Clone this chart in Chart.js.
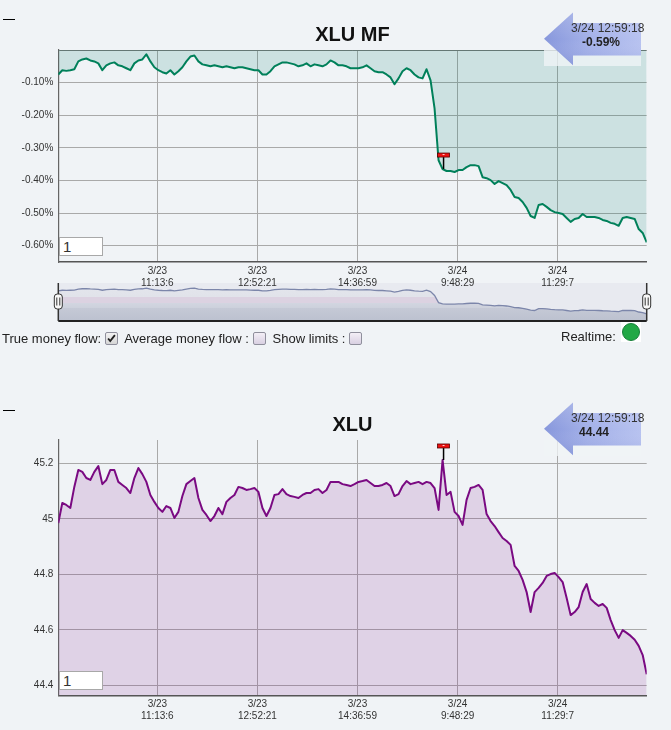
<!DOCTYPE html>
<html>
<head>
<meta charset="utf-8">
<script src="https://cdn.jsdelivr.net/npm/chart.js@4.4.1/dist/chart.umd.min.js"></script>
<style>
html,body{margin:0;padding:0;background:#f0f3f6;width:671px;height:730px;overflow:hidden;font-family:"Liberation Sans",Arial,sans-serif;}
canvas{position:absolute;left:0;}
.dash{position:absolute;left:3px;width:12px;height:0;border-top:1px solid #000;}
.num{position:absolute;left:59px;width:44px;height:19px;background:#fff;border:1px solid #a8a8a8;font-size:15px;line-height:17px;padding-left:3px;box-sizing:border-box;color:#333;}
#ctrl{position:absolute;left:2px;top:329px;font-size:13px;line-height:16px;color:#222;white-space:nowrap;}
#ctrl input{appearance:none;-webkit-appearance:none;width:13px;height:13px;margin:3px 3px 0 4px;border:1px solid #8f8f9c;border-radius:2px;background:linear-gradient(#f3eff6,#d9d0e2);vertical-align:-2px;box-sizing:border-box;}
#ctrl input:checked{background:url("data:image/svg+xml;utf8,<svg xmlns='http://www.w3.org/2000/svg' width='13' height='13'><path d='M2.5 6.5 L5 9.5 L10.5 2.5' stroke='%23222' stroke-width='2.2' fill='none'/></svg>") center/11px no-repeat, linear-gradient(#f2f2f2,#d6d6d6);}
#rt{position:absolute;left:561px;top:329px;font-size:13px;line-height:16px;color:#222;}
#led{position:absolute;left:621px;top:322px;width:20px;height:20px;background:#fff;}
#led div{position:absolute;left:1px;top:1px;width:16px;height:16px;border-radius:50%;background:#22a846;border:1px solid #17803a;}
</style>
</head>
<body>
<canvas id="nav" width="671" height="45" style="top:280px"></canvas>
<canvas id="mf" width="671" height="292" style="top:0px"></canvas>
<canvas id="px" width="671" height="350" style="top:380px"></canvas>
<div class="dash" style="top:19px"></div>
<div class="dash" style="top:410px"></div>
<div class="num" style="top:237px">1</div>
<div class="num" style="top:671px">1</div>
<div id="ctrl">True money flow:<input type="checkbox" checked> Average money flow :<input type="checkbox"> Show limits :<input type="checkbox"></div>
<div id="rt">Realtime:</div>
<div id="led"><div></div></div>
<script>
// ---------- data ----------
const mfValues = [
 -0.075,-0.062,-0.064,-0.062,-0.059,-0.035,-0.029,-0.026,-0.032,-0.035,
 -0.041,-0.062,-0.047,-0.041,-0.038,-0.047,-0.050,-0.056,-0.062,-0.041,
 -0.032,-0.029,-0.013,-0.035,-0.053,-0.062,-0.068,-0.072,-0.062,-0.075,
 -0.065,-0.053,-0.035,-0.020,-0.017,-0.035,-0.044,-0.047,-0.050,-0.047,
 -0.050,-0.053,-0.050,-0.053,-0.056,-0.053,-0.053,-0.056,-0.059,-0.062,
 -0.062,-0.075,-0.075,-0.065,-0.050,-0.044,-0.038,-0.038,-0.041,-0.044,
 -0.050,-0.047,-0.041,-0.050,-0.044,-0.047,-0.050,-0.044,-0.032,-0.038,
 -0.047,-0.047,-0.050,-0.056,-0.056,-0.056,-0.053,-0.047,-0.056,-0.065,
 -0.068,-0.068,-0.075,-0.084,-0.105,-0.087,-0.065,-0.056,-0.062,-0.075,
 -0.084,-0.087,-0.059,-0.093,-0.179,-0.338,-0.365,-0.371,-0.371,-0.374,
 -0.368,-0.368,-0.359,-0.353,-0.353,-0.356,-0.390,-0.393,-0.399,-0.411,
 -0.402,-0.408,-0.414,-0.429,-0.451,-0.454,-0.466,-0.484,-0.509,-0.515,
 -0.475,-0.472,-0.481,-0.491,-0.497,-0.500,-0.503,-0.515,-0.527,-0.518,
 -0.515,-0.503,-0.512,-0.512,-0.512,-0.515,-0.521,-0.524,-0.530,-0.533,
 -0.539,-0.515,-0.512,-0.515,-0.518,-0.549,-0.561,-0.590
];
const priceValues = [
 44.985,45.057,45.050,45.039,45.115,45.176,45.169,45.147,45.140,45.169,
 45.190,45.125,45.140,45.176,45.176,45.133,45.122,45.111,45.093,45.147,
 45.183,45.161,45.133,45.086,45.061,45.039,45.025,45.046,45.039,45.003,
 45.025,45.082,45.125,45.136,45.147,45.075,45.032,45.014,44.992,45.010,
 45.039,45.017,45.061,45.075,45.086,45.115,45.111,45.104,45.107,45.111,
 45.097,45.039,45.010,45.039,45.086,45.089,45.107,45.089,45.082,45.079,
 45.075,45.086,45.093,45.093,45.104,45.107,45.093,45.104,45.133,45.133,
 45.133,45.125,45.122,45.118,45.125,45.133,45.136,45.140,45.129,45.118,
 45.118,45.122,45.129,45.118,45.082,45.089,45.118,45.136,45.125,45.129,
 45.133,45.125,45.133,45.129,45.111,45.032,45.212,45.086,45.097,45.025,
 45.010,44.978,45.068,45.111,45.115,45.122,45.104,45.017,44.992,44.974,
 44.952,44.931,44.920,44.906,44.830,44.812,44.780,44.736,44.664,44.736,
 44.751,44.769,44.794,44.801,44.805,44.790,44.772,44.715,44.653,44.664,
 44.682,44.736,44.765,44.711,44.697,44.686,44.693,44.679,44.635,44.599,
 44.571,44.599,44.589,44.578,44.564,44.542,44.509,44.440
];
const xTickPos = [24.75, 49.75, 74.75, 99.75, 124.75];
const xTickLabels = [['3/23','11:13:6'],['3/23','12:52:21'],['3/23','14:36:59'],['3/24','9:48:29'],['3/24','11:29:7']];
const mfTicks = [-0.6,-0.5,-0.4,-0.3,-0.2,-0.1,0];
const priceTicks = [44.4,44.6,44.8,45.0,45.2];
const mfRange = [-0.65, 0];
const priceRange = [44.364, 45.284];
const navRange = [-0.75, 0.1];
const lastTime = '3/24 12:59:18';
const lastMf = '-0.59%';
const lastPrice = '44.44';
const flagIndex = 96;

// ---------- helpers ----------
const FONT = '"Liberation Sans", Arial, sans-serif';
const toXY = arr => arr.map((v, i) => ({x: i, y: v}));

const decor = {
  id: 'decor',
  afterDraw(chart, args, o) {
    const ctx = chart.ctx, a = chart.chartArea, t = a.top;
    ctx.save();
    // title
    ctx.font = 'bold 20px ' + FONT;
    ctx.fillStyle = '#111';
    ctx.textAlign = 'center';
    ctx.textBaseline = 'alphabetic';
    ctx.fillText(o.title, (a.left + a.right) / 2, t - 9);
    // flag marker
    const p = chart.getDatasetMeta(0).data[o.flagIndex];
    if (p) {
      ctx.strokeStyle = '#000'; ctx.lineWidth = 1.5;
      ctx.beginPath(); ctx.moveTo(p.x + 1, p.y - 12); ctx.lineTo(p.x + 1, p.y); ctx.stroke();
      ctx.fillStyle = '#ee1111';
      ctx.fillRect(p.x - 5, p.y - 16, 12, 4);
      ctx.strokeStyle = '#550000'; ctx.lineWidth = 0.8;
      ctx.strokeRect(p.x - 5, p.y - 16, 12, 4);
      ctx.fillStyle = '#ffd0d0';
      ctx.fillRect(p.x, p.y - 15, 2, 1);
    }
    // translucent box below the callout
    ctx.fillStyle = 'rgba(240,243,246,0.78)';
    ctx.fillRect(544, t, 97, 16);
    // arrow callout
    const tipX = 544, backX = 573, rightX = 641;
    ctx.beginPath();
    ctx.moveTo(tipX, t - 11.3);
    ctx.lineTo(backX, t - 37.5);
    ctx.lineTo(backX, t - 27);
    ctx.lineTo(rightX, t - 27);
    ctx.lineTo(rightX, t + 5.5);
    ctx.lineTo(backX, t + 5.5);
    ctx.lineTo(backX, t + 15.3);
    ctx.closePath();
    const g = ctx.createLinearGradient(tipX, 0, rightX, 0);
    g.addColorStop(0, '#8797dc');
    g.addColorStop(0.45, '#a3b0e8');
    g.addColorStop(1, '#b7c2f0');
    ctx.fillStyle = g;
    ctx.fill();
    const g2 = ctx.createLinearGradient(0, t - 37, 0, t + 15);
    g2.addColorStop(0, 'rgba(255,255,255,0.15)');
    g2.addColorStop(0.5, 'rgba(255,255,255,0.0)');
    g2.addColorStop(1, 'rgba(60,80,170,0.15)');
    ctx.fillStyle = g2;
    ctx.fill();
    // texts
    ctx.textAlign = 'left';
    ctx.font = '12px ' + FONT;
    ctx.fillStyle = '#333';
    ctx.fillText(o.dateText, 571, t - 18.3);
    ctx.font = 'bold 12px ' + FONT;
    ctx.fillStyle = '#222';
    ctx.textAlign = 'center';
    ctx.fillText(o.valueText, o.valueX, t - 4.3);
    ctx.restore();
  }
};

function xScale() {
  return {
    type: 'linear', min: 0, max: mfValues.length - 1,
    afterBuildTicks: s => { s.ticks = xTickPos.map(v => ({value: v})); },
    afterFit: s => { s.height = 30; },
    ticks: {
      autoSkip: false, maxRotation: 0, padding: 3,
      color: '#333', font: {family: FONT, size: 10},
      callback: (v, i) => xTickLabels[i]
    },
    grid: {color: '#a9a9a9', lineWidth: 1, drawTicks: false},
    border: {display: true, color: '#555', width: 1.6}
  };
}

function yScale(range, ticks, fmt, zeroColor) {
  return {
    type: 'linear', min: range[0], max: range[1],
    afterBuildTicks: s => { s.ticks = ticks.map(v => ({value: v})); },
    afterFit: s => { s.width = 58.3; },
    ticks: {
      padding: 5, color: '#333', font: {family: FONT, size: 10},
      callback: v => fmt(v)
    },
    grid: {
      drawTicks: false, lineWidth: 1,
      color: c => (zeroColor && c.tick && c.tick.value === 0) ? zeroColor : '#a9a9a9'
    },
    border: {display: true, color: '#666', width: 1.2}
  };
}

// ---------- money flow chart ----------
new Chart(document.getElementById('mf'), {
  type: 'line',
  data: {
    datasets: [{
      data: toXY(mfValues),
      borderColor: '#00805a', borderWidth: 2, borderJoinStyle: 'round',
      pointRadius: 0, fill: 'origin',
      backgroundColor: 'rgba(0,128,108,0.15)'
    }]
  },
  options: {
    responsive: false, animation: false,
    layout: {padding: {left: 0, right: 24.3, top: 50, bottom: 0}},
    scales: {
      x: xScale(),
      y: yScale(mfRange, mfTicks, v => v === 0 ? '' : v.toFixed(2) + '%', '#777')
    },
    plugins: {
      legend: {display: false}, tooltip: {enabled: false},
      decor: {title: 'XLU MF', dateText: lastTime, valueText: lastMf, valueX: 601, flagIndex: flagIndex}
    }
  },
  plugins: [decor]
});

// ---------- navigator ----------
const navPlugin = {
  id: 'navp',
  beforeDatasetsDraw(chart) {
    const ctx = chart.ctx, a = chart.chartArea;
    ctx.save();
    ctx.fillStyle = '#e8eaf0';
    ctx.fillRect(a.left, a.top, a.right - a.left, a.bottom - a.top);
    ctx.restore();
  },
  afterDraw(chart) {
    const ctx = chart.ctx, a = chart.chartArea;
    ctx.save();
    ctx.strokeStyle = '#222'; ctx.lineWidth = 2;
    ctx.beginPath(); ctx.moveTo(a.left, a.bottom); ctx.lineTo(a.right, a.bottom); ctx.stroke();
    ctx.lineWidth = 1.5; ctx.strokeStyle = '#333';
    [a.left, a.right].forEach(x => {
      ctx.beginPath(); ctx.moveTo(x, a.top); ctx.lineTo(x, a.bottom); ctx.stroke();
    });
    [a.left, a.right].forEach(x => {
      const hy = a.top + 11, hh = 15, hw = 8;
      ctx.beginPath();
      if (ctx.roundRect) ctx.roundRect(x - hw / 2, hy, hw, hh, 3); else ctx.rect(x - hw / 2, hy, hw, hh);
      ctx.fillStyle = '#f7f7f7'; ctx.fill();
      ctx.strokeStyle = '#333'; ctx.lineWidth = 1; ctx.stroke();
      ctx.beginPath();
      ctx.moveTo(x - 1.5, hy + 3.5); ctx.lineTo(x - 1.5, hy + hh - 3.5);
      ctx.moveTo(x + 1.5, hy + 3.5); ctx.lineTo(x + 1.5, hy + hh - 3.5);
      ctx.stroke();
    });
    ctx.restore();
  }
};
new Chart(document.getElementById('nav'), {
  type: 'line',
  data: {
    datasets: [{
      data: toXY(mfValues),
      borderColor: '#7c86aa', borderWidth: 1.3, pointRadius: 0,
      fill: 'start',
      backgroundColor: c => {
        const a = c.chart.chartArea;
        if (!a) return 'rgba(0,0,0,0)';
        const g = c.chart.ctx.createLinearGradient(0, a.top, 0, a.bottom);
        g.addColorStop(0, '#e4e6ed');
        g.addColorStop(0.36, '#e1e3ea');
        g.addColorStop(0.37, '#dcd2e1');
        g.addColorStop(0.52, '#dcd2e1');
        g.addColorStop(0.53, '#d2d5e0');
        g.addColorStop(0.65, '#cdd1dc');
        g.addColorStop(0.66, '#c5c9d6');
        g.addColorStop(1, '#bcc1cf');
        return g;
      }
    }]
  },
  options: {
    responsive: false, animation: false,
    layout: {padding: {left: 58.3, right: 24.3, top: 3, bottom: 4}},
    scales: {
      x: {type: 'linear', display: false, min: 0, max: mfValues.length - 1},
      y: {display: false, min: navRange[0], max: navRange[1]}
    },
    plugins: {legend: {display: false}, tooltip: {enabled: false}}
  },
  plugins: [navPlugin]
});

// ---------- price chart ----------
new Chart(document.getElementById('px'), {
  type: 'line',
  data: {
    datasets: [{
      data: toXY(priceValues),
      borderColor: '#7a0a82', borderWidth: 2, borderJoinStyle: 'round',
      pointRadius: 0, fill: 'start',
      backgroundColor: 'rgba(128,30,140,0.15)'
    }]
  },
  options: {
    responsive: false, animation: false,
    layout: {padding: {left: 0, right: 24.3, top: 60, bottom: 4.7}},
    scales: {
      x: xScale(),
      y: yScale(priceRange, priceTicks, v => String(+v.toFixed(1)), null)
    },
    plugins: {
      legend: {display: false}, tooltip: {enabled: false},
      decor: {title: 'XLU', dateText: lastTime, valueText: lastPrice, valueX: 594, flagIndex: flagIndex}
    }
  },
  plugins: [decor]
});
</script>
</body>
</html>
